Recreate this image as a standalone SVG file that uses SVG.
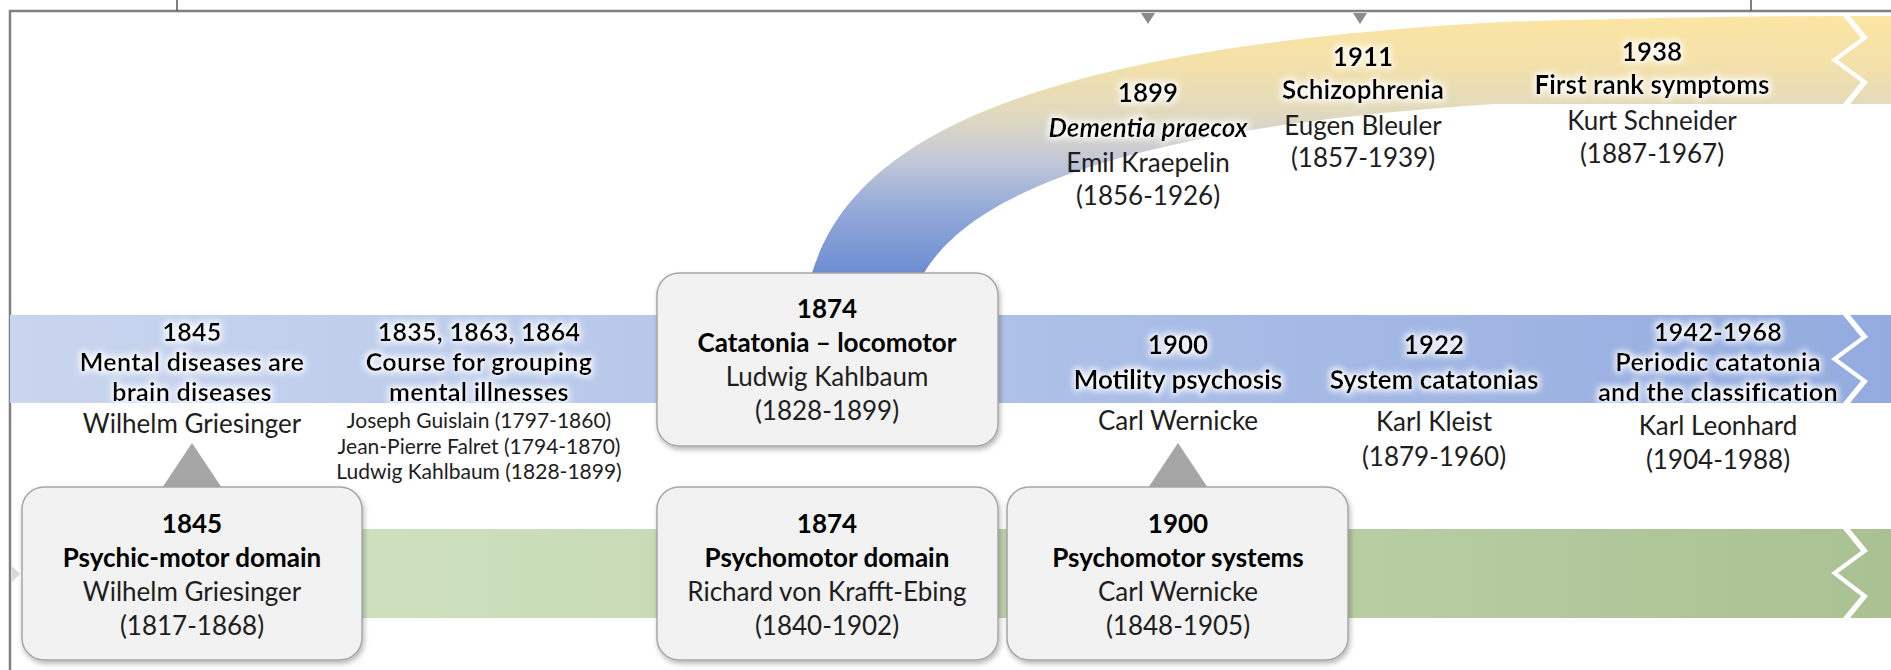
<svg xmlns="http://www.w3.org/2000/svg" width="1891" height="670" viewBox="0 0 1891 670">
  <defs>
    <style>
      text { font-family: Lato, "Open Sans", "Liberation Sans", sans-serif; text-anchor: middle; }
      .b { font-weight: 700; font-size: 26px; fill: #000; }
      .b3 { font-weight: 700; font-size: 25px; letter-spacing: 0.3px; fill: #000; }
      .bi { font-weight: 700; font-style: italic; font-size: 26px; fill: #000; }
      .r { font-size: 26px; fill: #1e1e1e; }
      .s { font-size: 21px; fill: #1e1e1e; }
      .box { fill: #f2f2f2; stroke: #a6a6a6; stroke-width: 1.5; }
      .tri { fill: #a6a6a6; }
      .frame { fill: none; stroke: #808080; stroke-width: 2.5; }
      .tick { fill: none; stroke: #555; stroke-width: 1.5; }
      .glow { filter: url(#glow); }
      .shadow { filter: url(#shadow); }
    </style>
    <linearGradient id="gBlue" gradientUnits="userSpaceOnUse" x1="10" y1="0" x2="1891" y2="0">
      <stop offset="0" stop-color="#c9d5ee"/>
      <stop offset="0.5" stop-color="#b0c2e8"/>
      <stop offset="1" stop-color="#93abdf"/>
    </linearGradient>
    <linearGradient id="gGreen" gradientUnits="userSpaceOnUse" x1="40" y1="0" x2="1891" y2="0">
      <stop offset="0" stop-color="#d4e5c6"/>
      <stop offset="0.5" stop-color="#c2d6ae"/>
      <stop offset="1" stop-color="#a9c193"/>
    </linearGradient>
    <linearGradient id="gArc" gradientUnits="userSpaceOnUse" x1="0" y1="275" x2="0" y2="16">
      <stop offset="0" stop-color="#6c8dd3"/>
      <stop offset="0.25" stop-color="#93a9d9"/>
      <stop offset="0.45" stop-color="#c4c9d7"/>
      <stop offset="0.62" stop-color="#e1d9bf"/>
      <stop offset="0.82" stop-color="#f4e1a9"/>
      <stop offset="1" stop-color="#fbe5a3"/>
    </linearGradient>
    <filter id="glow" x="-10%" y="-40%" width="120%" height="180%">
      <feMorphology in="SourceAlpha" operator="dilate" radius="2" result="d"/>
      <feGaussianBlur in="d" stdDeviation="3" result="bl"/>
      <feFlood flood-color="#ffffff" flood-opacity="0.9"/>
      <feComposite in2="bl" operator="in" result="halo"/>
      <feMerge>
        <feMergeNode in="halo"/>
        <feMergeNode in="SourceGraphic"/>
      </feMerge>
    </filter>
    <filter id="shadow" x="-5%" y="-5%" width="112%" height="115%">
      <feDropShadow dx="1.5" dy="3" stdDeviation="2.5" flood-color="#000" flood-opacity="0.28"/>
    </filter>
  </defs>

  <rect x="0" y="0" width="1891" height="670" fill="#ffffff"/>

  <!-- outer frame -->
  <g id="frame">
    <path class="frame" d="M10,670 L10,11 L1891,11"/>
    <path class="tick" d="M177,0 V11 M1751,0 V11"/>
    <path fill="#8a8a8a" d="M1141,13 L1155,13 L1148,24 Z M1353,13 L1367,13 L1360,24 Z"/>
    <path fill="#d9d9d9" d="M12,566 L20,574 L12,582 Z"/>
  </g>

  <!-- timeline bands with broken right ends -->
  <g id="bands">
    <path fill="url(#gBlue)" d="M10,315 L1843,315 L1861,337 L1831,359 L1861,381 L1843,403 L10,403 Z"/>
    <path fill="url(#gBlue)" d="M1850,315 L1891,315 L1891,403 L1850,403 L1868,381 L1838,359 L1868,337 Z"/>
    <path fill="url(#gGreen)" d="M40,529 L1843,529 L1861,551 L1831,573 L1861,596 L1843,618 L40,618 Z"/>
    <path fill="url(#gGreen)" d="M1850,529 L1891,529 L1891,618 L1850,618 L1868,596 L1838,573 L1868,551 Z"/>
  </g>

  <!-- connectors: curved branch and pointers -->
  <g id="connectors">
    <path id="branch-arc" fill="url(#gArc)" d="M810,282 L812,273 C850,150 1000,50 1500,22 Q1700,16 1843,16 L1861,38 L1831,60 L1861,82 L1843,104 L1495,104 C1090,130 965,205 924,273 L926,282 Z"/>
    <path fill="url(#gArc)" d="M1850,16 L1891,16 L1891,104 L1850,104 L1868,82 L1838,60 L1868,38 Z"/>
    <path class="tri" d="M192,443 L222,488 L162,488 Z"/>
    <path class="tri" d="M1178,443 L1208,488 L1148,488 Z"/>
  </g>

  <!-- boxed nodes -->
  <g id="node-1845-psychic-motor">
    <rect class="box shadow" x="22" y="487" width="340" height="173" rx="22"/>
    <text class="b" x="192" y="533">1845</text>
    <text class="b" x="192" y="567">Psychic-motor domain</text>
    <text class="r" x="192" y="601">Wilhelm Griesinger</text>
    <text class="r" x="192" y="635">(1817-1868)</text>
  </g>
  <g id="node-1874-catatonia">
    <rect class="box shadow" x="657" y="273" width="341" height="173" rx="22"/>
    <text class="b" x="827" y="318">1874</text>
    <text class="b" x="827" y="352">Catatonia – locomotor</text>
    <text class="r" x="827" y="386">Ludwig Kahlbaum</text>
    <text class="r" x="827" y="420">(1828-1899)</text>
  </g>
  <g id="node-1874-psychomotor">
    <rect class="box shadow" x="657" y="487" width="341" height="173" rx="22"/>
    <text class="b" x="827" y="533">1874</text>
    <text class="b" x="827" y="567">Psychomotor domain</text>
    <text class="r" x="827" y="601">Richard von Krafft-Ebing</text>
    <text class="r" x="827" y="635">(1840-1902)</text>
  </g>
  <g id="node-1900-systems">
    <rect class="box shadow" x="1007" y="487" width="341" height="173" rx="22"/>
    <text class="b" x="1178" y="533">1900</text>
    <text class="b" x="1178" y="567">Psychomotor systems</text>
    <text class="r" x="1178" y="601">Carl Wernicke</text>
    <text class="r" x="1178" y="635">(1848-1905)</text>
  </g>

  <!-- labels on the blue band -->
  <g id="node-1845-brain">
    <g class="glow">
      <text class="b3" x="192" y="341">1845</text>
      <text class="b3" x="192" y="371">Mental diseases are</text>
      <text class="b3" x="192" y="401">brain diseases</text>
    </g>
    <text class="r" x="192" y="433">Wilhelm Griesinger</text>
  </g>
  <g id="node-course">
    <g class="glow">
      <text class="b3" x="479" y="341">1835, 1863, 1864</text>
      <text class="b3" x="479" y="371">Course for grouping</text>
      <text class="b3" x="479" y="401">mental illnesses</text>
    </g>
    <text class="s" x="479" y="428">Joseph Guislain (1797-1860)</text>
    <text class="s" x="479" y="453.5">Jean-Pierre Falret (1794-1870)</text>
    <text class="s" x="479" y="479">Ludwig Kahlbaum (1828-1899)</text>
  </g>
  <g id="node-1900-motility">
    <g class="glow">
      <text class="b" x="1178" y="354">1900</text>
      <text class="b" x="1178" y="389">Motility psychosis</text>
    </g>
    <text class="r" x="1178" y="430">Carl Wernicke</text>
  </g>
  <g id="node-1922">
    <g class="glow">
      <text class="b" x="1434" y="354">1922</text>
      <text class="b" x="1434" y="389">System catatonias</text>
    </g>
    <text class="r" x="1434" y="431">Karl Kleist</text>
    <text class="r" x="1434" y="466">(1879-1960)</text>
  </g>
  <g id="node-1942">
    <g class="glow">
      <text class="b3" x="1718" y="341">1942-1968</text>
      <text class="b3" x="1718" y="371">Periodic catatonia</text>
      <text class="b3" x="1718" y="401">and the classification</text>
    </g>
    <text class="r" x="1718" y="435">Karl Leonhard</text>
    <text class="r" x="1718" y="469">(1904-1988)</text>
  </g>

  <!-- labels on the curved branch -->
  <g id="node-1899">
    <g class="glow">
      <text class="b" x="1148" y="102">1899</text>
      <text class="bi" x="1148" y="137">Dementia praecox</text>
    </g>
    <text class="r" x="1148" y="172">Emil Kraepelin</text>
    <text class="r" x="1148" y="205">(1856-1926)</text>
  </g>
  <g id="node-1911">
    <g class="glow">
      <text class="b" x="1363" y="66">1911</text>
      <text class="b" x="1363" y="99">Schizophrenia</text>
    </g>
    <text class="r" x="1363" y="135">Eugen Bleuler</text>
    <text class="r" x="1363" y="167">(1857-1939)</text>
  </g>
  <g id="node-1938">
    <g class="glow">
      <text class="b" x="1652" y="61">1938</text>
      <text class="b" x="1652" y="94">First rank symptoms</text>
    </g>
    <text class="r" x="1652" y="130">Kurt Schneider</text>
    <text class="r" x="1652" y="163">(1887-1967)</text>
  </g>
</svg>
